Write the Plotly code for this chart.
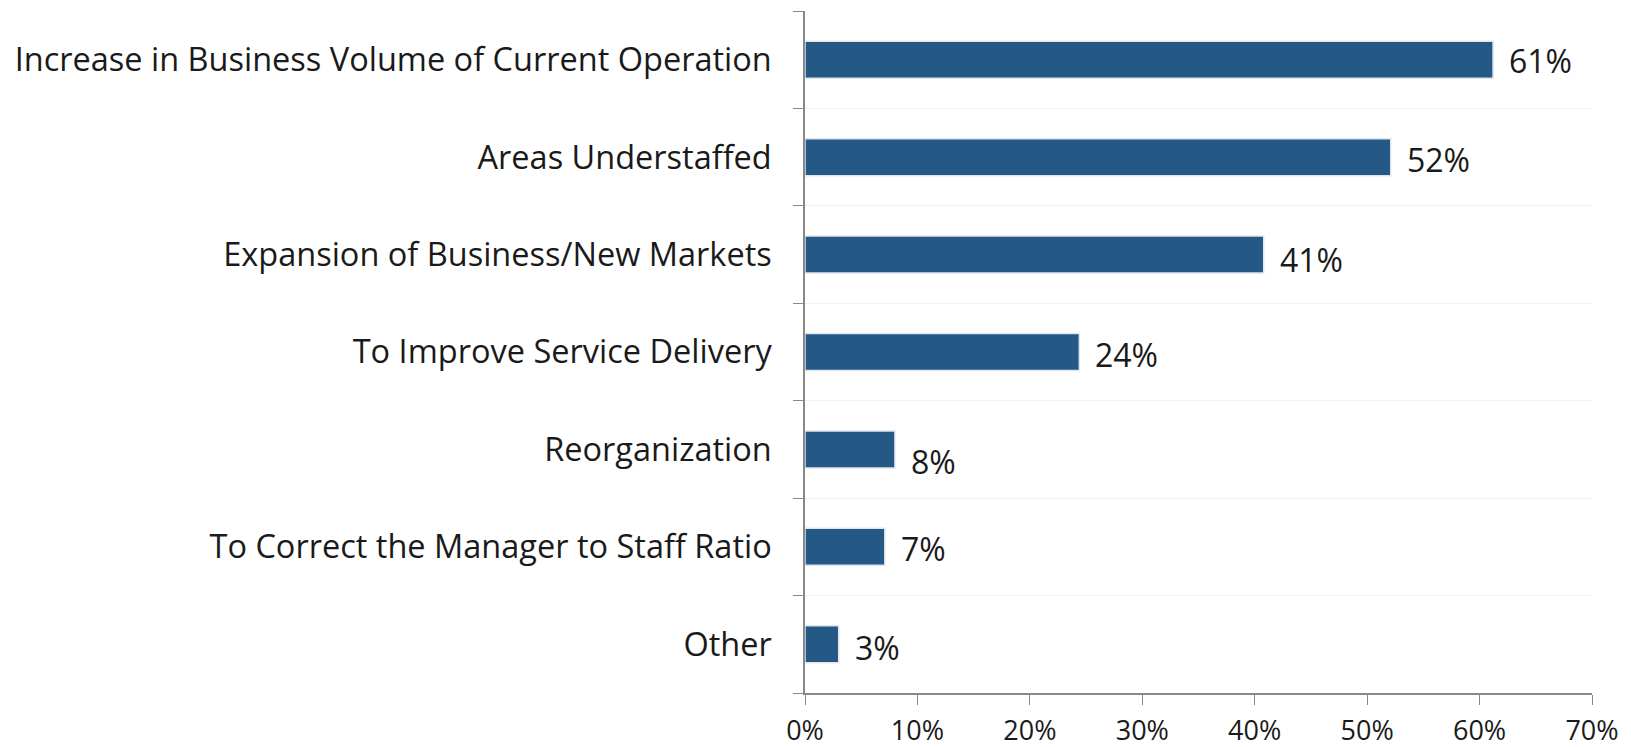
import plotly.graph_objects as go

categories = [
    "Increase in Business Volume of Current Operation",
    "Areas Understaffed",
    "Expansion of Business/New Markets",
    "To Improve Service Delivery",
    "Reorganization",
    "To Correct the Manager to Staff Ratio",
    "Other",
]
values = [61.2, 52.1, 40.8, 24.4, 8.0, 7.1, 3.0]
labels = ["61%", "52%", "41%", "24%", "8%", "7%", "3%"]
x_ticks = [0, 10, 20, 30, 40, 50, 60, 70]
x_ticktext = ["0%", "10%", "20%", "30%", "40%", "50%", "60%", "70%"]

# label vertical nudges (styling only)
label_yshift = [-1, -2, -5, -2, -12, -2, -3]

FONT = "Open Sans"
BAR = "#245986"

fig = go.Figure()
fig.add_trace(go.Bar(
    x=values, y=categories, orientation="h",
    marker=dict(color=BAR, line=dict(color="#dfe6ee", width=1.5)),
    width=0.38, hoverinfo="skip",
))
for c, v, t, ys in zip(categories, values, labels, label_yshift):
    fig.add_annotation(x=v, y=c, text=t, showarrow=False, xanchor="left",
                       yanchor="middle", xshift=14, yshift=ys,
                       font=dict(family=FONT, size=32, color="#1a1a1a"))

fig.update_layout(
    width=1631, height=747,
    margin=dict(l=797, r=47, t=3, b=62, autoexpand=False),
    paper_bgcolor="white", plot_bgcolor="white",
    showlegend=False,
    font=dict(family=FONT, size=32.5, color="#1a1a1a"),
)
fig.update_yaxes(
    categoryorder="array", categoryarray=categories[::-1],
    tickson="boundaries", ticks="outside", ticklen=10, tickcolor="#888888",
    showline=True, linecolor="#888888", linewidth=1.5,
    showgrid=True, gridcolor="#f2f2f2", gridwidth=1,
    ticklabelstandoff=25, automargin=False,
    tickfont=dict(family=FONT, size=32.5, color="#1a1a1a"),
)
fig.update_xaxes(
    range=[0, 70], tickvals=x_ticks, ticktext=x_ticktext,
    ticks="outside", ticklen=10, tickcolor="#888888",
    showline=True, linecolor="#888888", linewidth=1.5,
    showgrid=False, zeroline=False,
    ticklabelstandoff=3, automargin=False,
    tickfont=dict(family=FONT, size=27, color="#1a1a1a"),
)
fig.write_html("out.html")
